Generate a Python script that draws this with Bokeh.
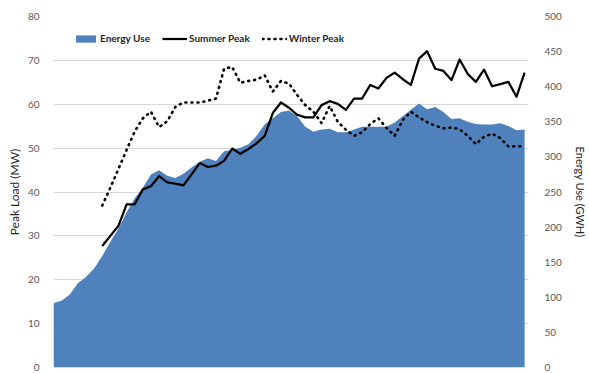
import math
from bokeh.plotting import figure
from bokeh.models import Range1d, LinearAxis, FixedTicker, ColumnDataSource, Legend
from bokeh.embed import file_html
from bokeh.resources import INLINE

nan = float("nan")

# category index (years, unlabeled in the reference)
idx = list(range(59))

# Energy Use (GWH) - right axis
energy_use = [92, 95, 104, 120, 129, 141, 159, 179, 198, 221,
              241, 256, 275, 281, 273, 270, 276, 285, 293, 298,
              294, 308, 310, 313, 318, 330, 346, 355, 364, 366,
              358, 343, 336, 339, 340, 335, 335, 339, 343, 343,
              343, 343, 349, 358, 367, 376, 368, 371, 364, 354,
              355, 350, 347, 346, 346, 348, 344, 338, 339]

# Summer Peak (MW) - left axis
summer_peak = [nan, nan, nan, nan, nan, nan, 27.7, 30.0, 32.3, 37.2,
               37.2, 40.6, 41.3, 43.6, 42.2, 41.9, 41.5, 44.0, 46.6, 45.7,
               46.0, 47.1, 49.9, 48.7, 49.8, 51.1, 52.8, 58.0, 60.4, 59.2,
               57.6, 57.0, 57.0, 59.8, 60.7, 60.1, 58.7, 61.3, 61.3, 64.4,
               63.6, 66.0, 67.2, 65.7, 64.4, 70.4, 72.1, 68.1, 67.6, 65.5,
               70.2, 66.9, 65.1, 67.9, 64.1, 64.6, 65.1, 61.7, 67.2]

# Winter Peak (MW) - left axis
winter_peak = [nan, nan, nan, nan, nan, nan, 36.9, 41.0, 45.3, 49.6,
               53.8, 56.8, 58.3, 54.8, 56.1, 59.4, 60.4, 60.4, 60.4, 60.8,
               61.3, 68.1, 68.5, 64.9, 65.3, 65.6, 66.6, 62.9, 65.3, 64.7,
               62.1, 59.8, 58.3, 55.7, 59.6, 56.0, 54.2, 52.8, 53.6, 55.5,
               56.8, 54.6, 52.8, 56.4, 58.3, 57.0, 55.9, 55.1, 54.5, 54.7,
               54.3, 52.8, 50.9, 52.6, 53.3, 52.3, 50.4, 50.4, 50.4]

left_ticks = list(range(0, 81, 10))
right_ticks = list(range(0, 501, 50))

src = ColumnDataSource(dict(x=idx, energy=energy_use, summer=summer_peak, winter=winter_peak))

p = figure(width=589, height=373, output_backend="svg", toolbar_location=None,
           x_range=Range1d(0, 58.48), y_range=Range1d(0, 80),
           min_border_left=53, min_border_right=49, min_border_top=16, min_border_bottom=6)
p.extra_y_ranges = {"right": Range1d(0, 500)}
p.outline_line_color = None
p.background_fill_color = "white"
p.border_fill_color = "white"

FONT = "Lato"
TICK_COLOR = "#595959"

# axes
p.xaxis.visible = False
p.xgrid.visible = False
p.ygrid.grid_line_color = "#d9d9d9"
p.ygrid.grid_line_width = 1
p.ygrid.ticker = FixedTicker(ticks=left_ticks)

ya = p.yaxis[0]
ya.ticker = FixedTicker(ticks=left_ticks)
ya.axis_label = "Peak Load (MW)"
ya.axis_line_color = None
ya.major_tick_line_color = None
ya.minor_tick_line_color = None
ya.major_label_standoff = 8
ya.axis_label_standoff = 3
ya.major_label_text_font = FONT
ya.major_label_text_font_size = "10px"
ya.major_label_text_color = TICK_COLOR
ya.axis_label_text_font = FONT
ya.axis_label_text_font_size = "12px"
ya.axis_label_text_font_style = "normal"
ya.axis_label_text_color = "#262626"

ra = LinearAxis(y_range_name="right", ticker=FixedTicker(ticks=right_ticks),
                axis_label="Energy Use (GWH)")
ra.axis_line_color = None
ra.major_tick_line_color = None
ra.minor_tick_line_color = None
ra.major_label_standoff = 10
ra.axis_label_standoff = 9
ra.major_label_text_font = FONT
ra.major_label_text_font_size = "10px"
ra.major_label_text_color = TICK_COLOR
ra.axis_label_text_font = FONT
ra.axis_label_text_font_size = "11px"
ra.axis_label_text_font_style = "normal"
ra.axis_label_text_color = "#262626"
p.add_layout(ra, "right")

# glyphs
r_area = p.varea(x="x", y1=0, y2="energy", source=src, y_range_name="right",
                 fill_color="#4f81bd")
r_sum = p.line(x="x", y="summer", source=src, line_color="black", line_width=2.25,
               line_join="round")
r_win = p.line(x="x", y="winter", source=src, line_color="black", line_width=2.6,
               line_dash="1 5", line_cap="round", line_join="round")

legend = Legend(items=[("Energy Use", [r_area]), ("Summer Peak", [r_sum]), ("Winter Peak", [r_win])],
                orientation="horizontal", location=(20, 323))
legend.padding = 0
legend.margin = 0
legend.spacing = 12
legend.glyph_width = 25
legend.glyph_height = 9
legend.label_height = 12
legend.label_standoff = 2
legend.label_text_font = FONT
legend.label_text_font_size = "10px"
legend.label_text_font_style = "bold"
legend.label_text_color = "#262626"
legend.border_line_alpha = 0
legend.background_fill_alpha = 0
p.add_layout(legend)

open("out.html", "w").write(file_html(p, INLINE))
